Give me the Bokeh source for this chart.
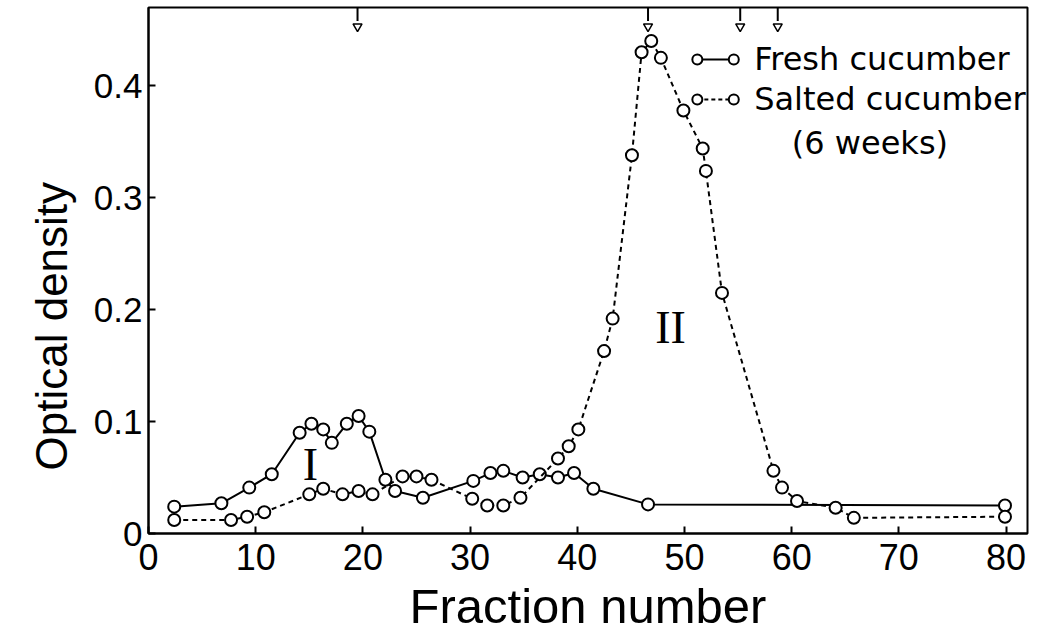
from bokeh.plotting import figure
from bokeh.models import Range1d, FixedTicker, Title
from bokeh.core.properties import value
from bokeh.embed import file_html
from bokeh.resources import INLINE

# ---- data ----
fresh_x = [2.4, 6.8, 9.4, 11.5, 14.1, 15.2, 16.3, 17.1, 18.5, 19.6, 20.6, 22.1, 23.0,
           25.6, 30.3, 31.9, 33.1, 34.9, 36.5, 38.2, 39.7, 41.5, 46.6, 79.9]
fresh_y = [0.024, 0.027, 0.041, 0.053, 0.090, 0.098, 0.093, 0.081, 0.098, 0.105, 0.091,
           0.048, 0.038, 0.032, 0.047, 0.054, 0.056, 0.050, 0.053, 0.050, 0.054, 0.040,
           0.026, 0.025]
salted_x = [2.4, 7.7, 9.2, 10.8, 15.0, 16.3, 18.1, 19.6, 20.9, 23.7, 25.0, 26.4, 30.2,
            31.6, 33.1, 34.7, 38.2, 39.2, 40.1, 42.5, 43.3, 45.1, 46.0, 46.9, 47.8, 49.9,
            51.7, 52.0, 53.5, 58.3, 59.1, 60.5, 64.1, 65.8, 79.9]
salted_y = [0.012, 0.012, 0.015, 0.019, 0.035, 0.040, 0.035, 0.038, 0.035, 0.051, 0.051,
            0.048, 0.031, 0.025, 0.025, 0.032, 0.067, 0.078, 0.093, 0.163, 0.192, 0.338,
            0.430, 0.440, 0.425, 0.378, 0.344, 0.324, 0.215, 0.056, 0.041, 0.029, 0.023,
            0.014, 0.015]
arrow_fractions = [19.5, 46.6, 55.2, 58.7]
x_ticks = [0, 10, 20, 30, 40, 50, 60, 70, 80]
y_ticks = [0, 0.1, 0.2, 0.3, 0.4]
y_tick_labels = ["0", "0.1", "0.2", "0.3", "0.4"]
series_names = ["Fresh cucumber", "Salted cucumber", "(6 weeks)"]
x_title = "Fraction number"
y_title = "Optical density"
peak_labels = ["I", "II"]
peak_label_x = [15.1, 48.7]
peak_label_y = [0.062, 0.184]

FONT = "Liberation Sans"
XMAX = 82
YTOP = 0.47

p = figure(width=1036, height=639, output_backend="svg", toolbar_location=None,
           x_range=Range1d(0, XMAX), y_range=Range1d(0, YTOP),
           min_border_left=148, min_border_right=9, min_border_top=7, min_border_bottom=106)
p.grid.visible = False
p.outline_line_color = "black"
p.outline_line_width = 2
p.background_fill_color = "white"
p.border_fill_color = "white"

for ax in (p.xaxis[0], p.yaxis[0]):
    ax.axis_line_width = 2
    ax.axis_line_color = "black"
    ax.major_tick_in = 7
    ax.major_tick_out = 0
    ax.minor_tick_line_color = None
    ax.major_tick_line_width = 2
    ax.major_label_text_font = FONT
    ax.major_label_text_color = "black"

p.xaxis.major_label_text_font_size = "36px"
p.yaxis.major_label_text_font_size = "35px"
p.xaxis.ticker = FixedTicker(ticks=x_ticks)
p.yaxis.ticker = FixedTicker(ticks=y_ticks)
p.yaxis.major_label_overrides = {t: l for t, l in zip(y_ticks, y_tick_labels)}
p.xaxis.major_label_standoff = 10
p.yaxis.major_label_standoff = 6

p.xaxis.axis_label = x_title
p.xaxis.axis_label_text_font = FONT
p.xaxis.axis_label_text_font_style = "normal"
p.xaxis.axis_label_text_font_size = "49px"
p.xaxis.axis_label_text_color = "black"
p.xaxis.axis_label_standoff = 6

# y title as a side title, shifted down like the reference
p.add_layout(Title(text=y_title, align="left", offset=63, standoff=30,
                   text_font=FONT, text_font_size="44px", text_font_style="normal",
                   text_color="black"),
             "left")

# curves
p.line(fresh_x, fresh_y, line_color="black", line_width=2)
p.scatter(fresh_x, fresh_y, marker="circle", size=12, line_color="black",
          line_width=2, fill_color="white")
p.line(salted_x, salted_y, line_color="black", line_width=2, line_dash="5 4")
p.scatter(salted_x, salted_y, marker="circle", size=12, line_color="black",
          line_width=2, fill_color="white")

# arrows at the top
p.segment(x0=arrow_fractions, y0=[YTOP] * 4, x1=arrow_fractions, y1=[YTOP - 0.012] * 4,
          line_color="black", line_width=2)
p.scatter(arrow_fractions, [YTOP - 0.017] * 4, marker="inverted_triangle", size=9,
          line_color="black", fill_color="white", line_width=1.5)

# peak labels
p.text(peak_label_x, peak_label_y, text=peak_labels, text_font=value("Liberation Serif"),
       text_font_size="46px", text_align="center", text_baseline="middle", text_color="black")

# legend (drawn by hand)
lx0, lx1 = 51.2, 54.6
ly = [0.4236, 0.3878]
p.line([lx0, lx1], [ly[0]] * 2, line_color="black", line_width=2)
p.line([lx0, lx1], [ly[1]] * 2, line_color="black", line_width=2, line_dash="4 3")
p.scatter([lx0, lx1, lx0, lx1], [ly[0], ly[0], ly[1], ly[1]], marker="circle", size=10,
          line_color="black", line_width=2, fill_color="white")
p.text([56.5, 56.5], ly, text=series_names[:2], text_font=value("DejaVu Sans"),
       text_font_size="32px", text_align="left", text_baseline="middle", text_color="black")
p.text([67.3], [0.349], text=[series_names[2]], text_font=value("DejaVu Sans"),
       text_font_size="32px", text_align="center", text_baseline="middle", text_color="black")

open("out.html", "w").write(file_html(p, INLINE))
